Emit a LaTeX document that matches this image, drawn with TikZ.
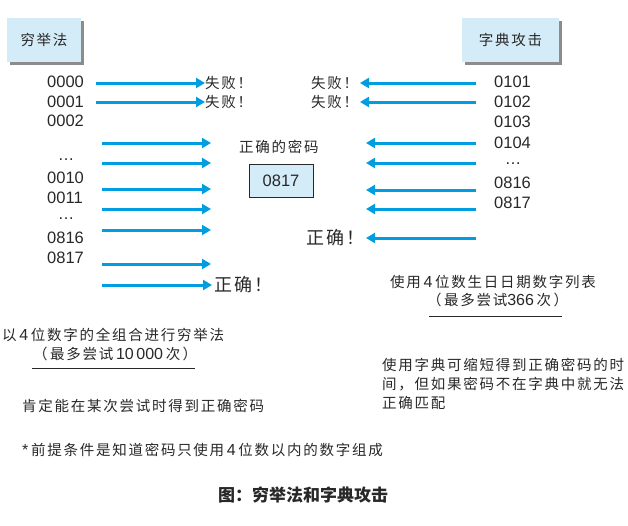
\documentclass[tikz,border=0pt]{standalone}
\usepackage{fontspec}
\setmainfont{Liberation Sans}
\newfontfamily\cjk[LetterSpace=12]{Noto Sans CJK SC}
\newfontfamily\cjkt{Noto Sans CJK SC}
\usetikzlibrary{arrows.meta,shadows}
\definecolor{arrowblue}{RGB}{0,158,224}
\definecolor{boxblue}{RGB}{212,235,248}
\definecolor{ink}{RGB}{40,40,40}
\definecolor{shadowgray}{RGB}{140,140,140}
\newcommand{\dg}[1]{{\fontspec{Liberation Sans}[LetterSpace=0]\fontsize{16}{18}\selectfont#1}}
\begin{document}
\begin{tikzpicture}[x=1pt,y=-1pt,
  every node/.style={text=ink, inner sep=0pt},
  arr/.style={draw=arrowblue, line width=3pt, -{Triangle[length=9pt,width=10pt]}},
  num/.style={anchor=west, font=\fontsize{16.5}{18}\selectfont},
  lbl/.style={font=\cjk\fontsize{14.5}{17}\selectfont},
  big/.style={font=\cjk\fontsize{18}{20}\selectfont},
  hbox/.style={fill=boxblue, font=\cjk\fontsize{14.5}{17}\selectfont,
    drop shadow={shadow xshift=3pt, shadow yshift=-3pt, opacity=1, fill=shadowgray}},
  uline/.style={draw=ink, line width=1pt}]
\useasboundingbox (0,0) rectangle (628,525);

% header boxes
\node[hbox, minimum width=74pt, minimum height=44pt] (hL) at (44,40) {穷举法};
\node[hbox, minimum width=97pt, minimum height=44pt] (hR) at (510.5,40) {字典攻击};

% left number list
\node[num] (n1) at (47,82) {0000};
\node[num] (n2) at (47,102) {0001};
\node[num] (n3) at (47,121) {0002};
\node[num, anchor=base] (d1) at (66,160) {…};
\node[num] (n4) at (47,178) {0010};
\node[num] (n5) at (47,198) {0011};
\node[num, anchor=base] (d2) at (66,219) {…};
\node[num] (n6) at (47,238) {0816};
\node[num] (n7) at (47,258) {0817};

% right number list
\node[num] (r1) at (494,82) {0101};
\node[num] (r2) at (494,102) {0102};
\node[num] (r3) at (494,122) {0103};
\node[num] (r4) at (494,143) {0104};
\node[num, anchor=base] (rd) at (513,164) {…};
\node[num] (r5) at (494,183) {0816};
\node[num] (r6) at (494,203) {0817};

% left labels
\node[lbl, anchor=west] (fL1) at (205,83) {失败！};
\node[lbl, anchor=west] (fL2) at (205,102) {失败！};
\node[big, anchor=west] (okL) at (214,285) {正确！};

% right labels
\node[lbl, anchor=west] (fR1) at (311,83) {失败！};
\node[lbl, anchor=west] (fR2) at (311,102) {失败！};
\node[big, anchor=west] (okR) at (306,238) {正确！};

% centre
\node[lbl, anchor=west] (pwl) at (239,147) {正确的密码};
\node[draw=ink, line width=1pt, fill=boxblue, minimum width=64pt, minimum height=33pt,
  font=\fontsize{16.5}{18}\selectfont] (pw) at (281,180.5) {0817};

% left arrows
\coordinate (ls1) at (96,83);
\coordinate (ls2) at (96,102);
\draw[arr] (ls1) -- (fL1.west);
\draw[arr] (ls2) -- (fL2.west);
\foreach \i/\y in {3/143,4/163,5/189,6/209,7/230,8/264} {
  \coordinate (ls\i) at (102,\y);
  \coordinate (le\i) at (211,\y);
  \draw[arr] (ls\i) -- (le\i);
}
\coordinate (ls9) at (102,285);
\draw[arr] (ls9) -- ([xshift=-2pt]okL.west);

% right arrows
\coordinate (rs1) at (476,83);
\coordinate (rs2) at (476,102);
\coordinate (re1) at (360,83);
\coordinate (re2) at (360,102);
\draw[arr] (rs1) -- (re1);
\draw[arr] (rs2) -- (re2);
\foreach \i/\y in {3/143,4/163,5/190,6/209,7/238} {
  \coordinate (rs\i) at (476,\y);
  \coordinate (re\i) at (366,\y);
  \draw[arr] (rs\i) -- (re\i);
}

% right notes
\node[lbl, anchor=west] (dictA) at (390,282) {使用\dg{\,4\,}位数生日日期数字列表};
\node[lbl, anchor=west] (dictB) at (427,300) {（\,最多尝试\dg{366\,}次\,）};
\coordinate (u2a) at (429,316);
\coordinate (u2b) at (562,316);
\draw[uline] (u2a) -- (u2b);

\node[lbl, anchor=west, align=left, font=\cjk\fontsize{14.5}{19}\selectfont] (dictC) at (382,384)
  {使用字典可缩短得到正确密码的时\\间，但如果密码不在字典中就无法\\正确匹配};

% left notes
\node[lbl, anchor=west] (bfA) at (2,335) {以\dg{\,4\,}位数字的全组合进行穷举法};
\node[lbl, anchor=west] (bfB) at (33,354) {（\,最多尝试\dg{\,10\,000\,}次\,）};
\coordinate (u1a) at (32,368);
\coordinate (u1b) at (195,368);
\draw[uline] (u1a) -- (u1b);
\node[lbl, anchor=west] (bfC) at (22,406) {肯定能在某次尝试时得到正确密码};

\node[lbl, anchor=west] (note) at (22,450) {\dg{*\,}前提条件是知道密码只使用\dg{\,4\,}位数以内的数字组成};
\node[font=\cjkt\bfseries\fontsize{17}{20}\selectfont, anchor=west] (cap) at (218,495) {图：穷举法和字典攻击};
\end{tikzpicture}
\end{document}
